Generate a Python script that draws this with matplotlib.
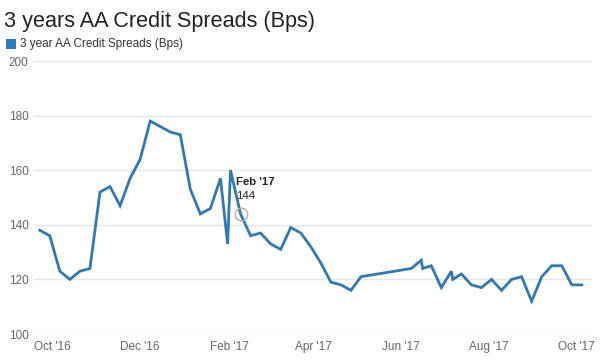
import numpy as np
import matplotlib
matplotlib.use("Agg")
import matplotlib.pyplot as plt
import matplotlib.dates as mdates

plt.rcParams['font.family'] = ['Liberation Sans', 'DejaVu Sans']

dates = np.array([
    "2016-09-22", "2016-09-29", "2016-10-06", "2016-10-13", "2016-10-20", "2016-10-27",
    "2016-11-03", "2016-11-10", "2016-11-17", "2016-11-24", "2016-12-01", "2016-12-08",
    "2016-12-15", "2016-12-22", "2016-12-29", "2017-01-05", "2017-01-12", "2017-01-19",
    "2017-01-26", "2017-01-31", "2017-02-02", "2017-02-09", "2017-02-16", "2017-02-23",
    "2017-03-02", "2017-03-09", "2017-03-16", "2017-03-23", "2017-03-30", "2017-04-06",
    "2017-04-13", "2017-04-20", "2017-04-27", "2017-05-04", "2017-06-08", "2017-06-15",
    "2017-06-16", "2017-06-22", "2017-06-29", "2017-07-06", "2017-07-07", "2017-07-13",
    "2017-07-20", "2017-07-27", "2017-08-03", "2017-08-10", "2017-08-17", "2017-08-24",
    "2017-08-31", "2017-09-07", "2017-09-14", "2017-09-21", "2017-09-28", "2017-10-05",
], dtype="datetime64[D]")
spreads = [
    138, 136, 123, 120, 123, 124,
    152, 154, 147, 157, 164, 178,
    176, 174, 173, 153, 144, 146,
    157, 133, 160, 144, 136, 137,
    133, 131, 139, 137, 132, 126,
    119, 118, 116, 121, 124, 127,
    124, 125, 117, 123, 120, 122,
    118, 117, 120, 116, 120, 121,
    112, 121, 125, 125, 118, 118,
]

tick_dates = np.array(["2016-10-01", "2016-12-01", "2017-02-01", "2017-04-01",
                       "2017-06-01", "2017-08-01", "2017-10-01"], dtype="datetime64[D]")
tick_labels = ["Oct '16", "Dec '16", "Feb '17", "Apr '17", "Jun '17", "Aug '17", "Oct '17"]
y_ticks = [100, 120, 140, 160, 180, 200]

hover_date = np.datetime64("2017-02-09")
hover_value = 144

line_col = "#2f7ab6"

fig = plt.figure(figsize=(6.14, 3.64), dpi=100)
ax = fig.add_axes([0.0554, 0.0824, 0.9086, 0.75])

x = dates.astype("datetime64[ms]").astype(object)
ax.plot(x, spreads, color=line_col, linewidth=2, solid_joinstyle="miter")

ax.set_ylim(100, 200)
ax.set_yticks(y_ticks)
ax.set_xlim(np.datetime64("2016-09-18").astype(object), np.datetime64("2017-10-12").astype(object))
ax.set_xticks(tick_dates.astype(object))
ax.set_xticklabels(tick_labels)

ax.grid(axis="y", color="#e6e6e6", linewidth=1)
ax.set_axisbelow(True)
for s in ax.spines.values():
    s.set_visible(False)
ax.tick_params(axis="both", length=0, colors="#666666", labelsize=8.5)
ax.tick_params(axis="y", pad=4)
ax.tick_params(axis="x", pad=5)

# hover marker and tooltip text
hx = hover_date.astype(object)
ax.plot([hx], [hover_value], marker="o", markersize=9, markerfacecolor="none",
        markeredgecolor="#b0b0b0", markeredgewidth=1)
ax.annotate("Feb '17", (hx, hover_value), xytext=(-3, 19.5), textcoords="offset points",
            fontsize=8.2, fontweight="bold", color="#222222", ha="left", va="bottom")
ax.annotate(str(hover_value), (hx, hover_value), xytext=(-3, 9.5), textcoords="offset points",
            fontsize=8.2, color="#222222", ha="left", va="bottom")

fig.text(0.006, 0.925, "3 years AA Credit Spreads (Bps)", fontsize=15.6, color="#222222",
         ha="left", va="baseline")
fig.patches.append(plt.Rectangle((0.0098, 0.866), 0.0163, 0.0275, transform=fig.transFigure,
                                 facecolor="#2a7fc1", edgecolor="none"))
fig.text(0.033, 0.879, "3 year AA Credit Spreads (Bps)", fontsize=8.5, color="#333333",
         ha="left", va="center")

fig.savefig("out.png", dpi=100)
